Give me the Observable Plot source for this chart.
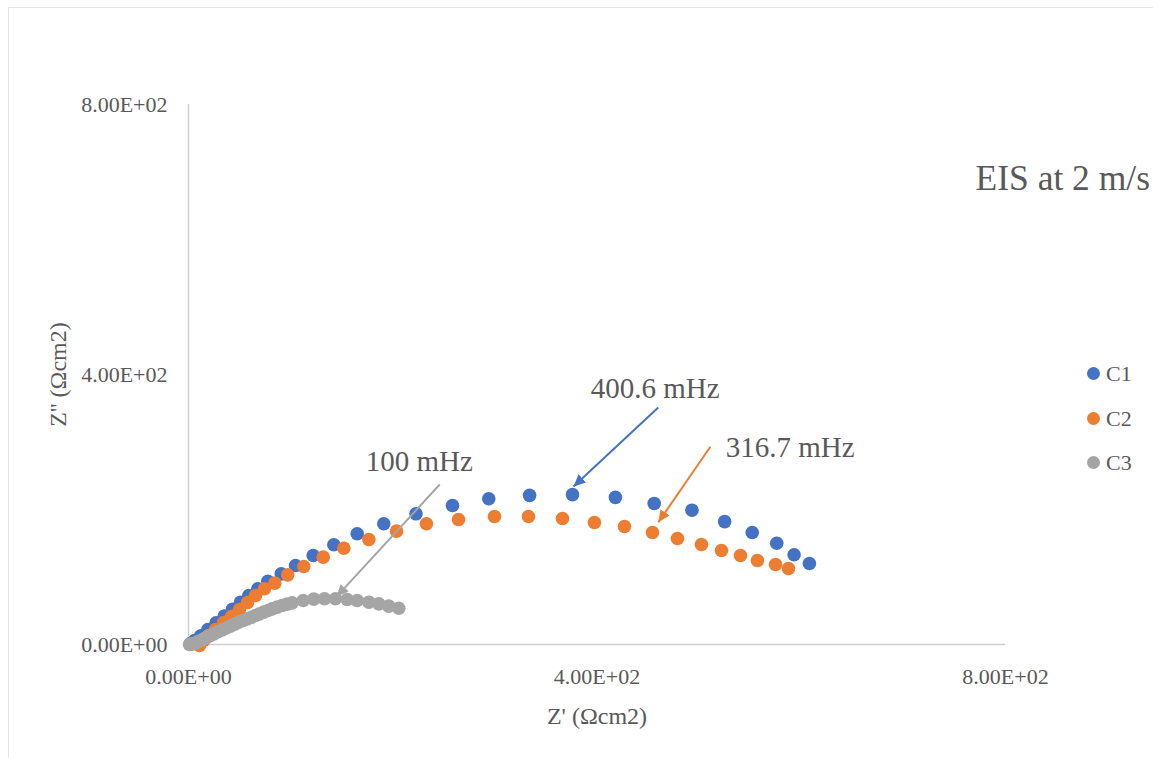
<!DOCTYPE html>
<html>
<head>
<meta charset="utf-8">
<script src="https://cdn.jsdelivr.net/npm/d3@7"></script>
<script src="https://cdn.jsdelivr.net/npm/@observablehq/plot@0.6"></script>
<style>
  html, body { margin: 0; padding: 0; background: #fff; }
  #wrap { position: relative; width: 1153px; height: 758px; overflow: hidden; font-family: "Liberation Serif", serif; color: #595959; }
  #frame { position: absolute; left: 8px; top: 7px; width: 1200px; height: 800px; border: 1.5px solid #e4e4e4; box-sizing: border-box; }
  #legend { position: absolute; left: 1087px; top: 360px; font-size: 22px; }
  .item { position: absolute; left: 0; height: 28px; line-height: 28px; white-space: nowrap; }
  .sw { display: inline-block; width: 13px; height: 13px; border-radius: 50%; vertical-align: middle; margin-right: 6px; position: relative; top: -2px; }
  #chart { position: absolute; left: 0; top: 0; }
</style>
</head>
<body>
<div id="wrap">
  <div id="frame"></div>
  <div id="chart"></div>
  <div id="legend"></div>
</div>
<script>
// ---- data ----
const seriesNames = ["C1", "C2", "C3"];
const seriesColors = ["#4472C4", "#ED7D31", "#A5A5A5"];

const c1x = [2, 6, 12, 19, 27, 35, 43, 50.9, 59.1, 67.9, 77.7, 90.8, 104.8, 122.1, 142.3, 165.2, 191.2, 222.8, 258.5, 294, 334, 376, 418, 456, 493, 525, 552, 576, 593, 608];
const c1y = [1.5, 6, 13, 22, 32, 42, 52, 62.7, 72.6, 82.5, 93.8, 104.7, 117, 131.9, 147.7, 164, 178.8, 193.6, 206, 216, 221, 222, 218, 209, 199, 182, 166, 150, 133, 120];

const c2x = [10.8, 14.7, 19.6, 26.4, 34.3, 42.1, 49.9, 57.8, 65.6, 74.4, 84.5, 97.2, 112.9, 131.9, 152.1, 176.6, 203.7, 233, 264.4, 299.6, 332.9, 366.2, 397.5, 426.9, 454.3, 478.8, 502.3, 521.9, 540.5, 557.1, 574.8, 587.5];
const c2y = [-1.5, 5.9, 13.3, 22.2, 32.6, 41.5, 51.9, 62.2, 72.6, 82.5, 90.9, 103.2, 115.6, 129.4, 142.7, 155.6, 167.9, 178.8, 185.2, 189.6, 189.6, 186.7, 180.7, 174.8, 165.9, 157, 148.1, 139.3, 131.9, 124.4, 118.5, 112.6];

const c3x = [1, 2, 3.5, 5.2, 8.5, 11.7, 15, 18.3, 21.5, 24.8, 29, 33, 37, 41.1, 45.2, 49.3, 53.3, 57.4, 61.5, 65.6, 69.6, 73.7, 77.8, 81.9, 86.8, 91.7, 96.6, 101.5, 112.3, 122.7, 133.2, 143.9, 155.4, 165.2, 176.6, 186.4, 196.1, 205.9];
const c3y = [0, 0.5, 0.8, 1.5, 3.6, 5.9, 8.4, 10.9, 13.3, 15.8, 18.8, 21.7, 24.5, 27.2, 30.2, 33.1, 35.5, 37.9, 40.4, 42.9, 45.4, 47.9, 50.3, 52.8, 55.3, 57.8, 59.8, 61.7, 65.2, 67.2, 67.7, 67.7, 66.7, 65.2, 62.7, 60.2, 56.8, 53.8];

const tickValues = [0, 400, 800];

// annotations: label, label position, arrow start, arrow end, series index
const annLabels = ["400.6 mHz", "316.7 mHz", "100 mHz"];
const annTextX = [457, 526, 226];
const annTextY = [379, 292, 271];
const annAnchor = ["middle", "start", "middle"];
const annX1 = [460, 511, 246];
const annY1 = [351, 293, 237];
const annX2 = [377, 460, 145];
const annY2 = [234, 181, 71];
const annSeries = [0, 1, 2];

const titleText = "EIS at 2 m/s";
const xLabel = "Z' (Ωcm2)";
const yLabel = "Z'' (Ωcm2)";

// ---- build tables ----
const allX = [c1x, c2x, c3x];
const allY = [c1y, c2y, c3y];
const points = [];
seriesNames.forEach((name, i) => {
  allX[i].forEach((x, j) => points.push({series: name, x, y: allY[i][j]}));
});
const ann = annLabels.map((label, i) => ({
  label, tx: annTextX[i], ty: annTextY[i], anchor: annAnchor[i],
  x1: annX1[i], y1: annY1[i], x2: annX2[i], y2: annY2[i],
  color: seriesColors[annSeries[i]]
}));

function fmt(v) {
  const [m, e] = v.toExponential(2).split("e");
  const sign = e[0] === "-" ? "-" : "+";
  const digits = e.replace(/^[+-]/, "").padStart(2, "0");
  return m + "E" + sign + digits;
}

function filledArrow(color, context) {
  const doc = context.document;
  const ns = "http://www.w3.org/2000/svg";
  const m = doc.createElementNS(ns, "marker");
  m.setAttribute("viewBox", "-12 -5.5 12 11");
  m.setAttribute("markerWidth", 12);
  m.setAttribute("markerHeight", 11);
  m.setAttribute("markerUnits", "userSpaceOnUse");
  m.setAttribute("orient", "auto");
  m.setAttribute("refX", 0);
  m.setAttribute("refY", 0);
  const p = doc.createElementNS(ns, "path");
  p.setAttribute("d", "M-12,-5.5L0,0L-12,5.5Z");
  p.setAttribute("fill", color);
  p.setAttribute("stroke", "none");
  m.appendChild(p);
  return m;
}

const plot = Plot.plot({
  width: 1153,
  height: 758,
  marginLeft: 188,
  marginRight: 148,
  marginTop: 104,
  marginBottom: 114,
  style: {fontFamily: "Liberation Serif, serif", color: "#595959", background: "transparent", overflow: "visible"},
  x: {domain: [0, 800]},
  y: {domain: [0, 800]},
  color: {domain: seriesNames, range: seriesColors},
  marks: [
    Plot.axisX({ticks: tickValues, tickFormat: fmt, tickSize: 0, tickPadding: 24, fontSize: 22, label: null, fill: "#595959"}),
    Plot.axisY({ticks: tickValues, tickFormat: fmt, tickSize: 0, tickPadding: 21, fontSize: 22, label: null, fill: "#595959"}),
    Plot.ruleY([0], {x1: 0, x2: 800, stroke: "#cfcfcf", strokeWidth: 1.5}),
    Plot.ruleX([0], {y1: 0, y2: 800, stroke: "#cfcfcf", strokeWidth: 1.5}),
    Plot.dot(points, {x: "x", y: "y", fill: "series", r: 6.8, stroke: "none"}),
    Plot.link(ann, {x1: "x1", y1: "y1", x2: "x2", y2: "y2", stroke: d => d.color, strokeWidth: 2, markerEnd: filledArrow}),
    Plot.text(ann.filter(d => d.anchor === "middle"), {x: "tx", y: "ty", text: "label", fontSize: 29, fill: "#595959", textAnchor: "middle"}),
    Plot.text(ann.filter(d => d.anchor === "start"), {x: "tx", y: "ty", text: "label", fontSize: 29, fill: "#595959", textAnchor: "start"}),
    Plot.text([titleText], {frameAnchor: "top-right", textAnchor: "start", lineAnchor: "middle", dx: -30, dy: 74, fontSize: 35.5, fill: "#595959"}),
    Plot.text([xLabel], {frameAnchor: "bottom", lineAnchor: "middle", dy: 72, fontSize: 24, fill: "#595959"}),
    Plot.text([yLabel], {frameAnchor: "left", textAnchor: "middle", lineAnchor: "middle", dx: -130, rotate: -90, fontSize: 24, fill: "#595959"})
  ]
});
document.getElementById("chart").appendChild(plot);

// legend
const legend = document.getElementById("legend");
const legendTops = [0, 45, 89];
seriesNames.forEach((name, i) => {
  const it = document.createElement("div");
  it.className = "item";
  it.style.top = legendTops[i] + "px";
  it.innerHTML = `<span class="sw" style="background:${seriesColors[i]}"></span>${name}`;
  legend.appendChild(it);
});
</script>
</body>
</html>
